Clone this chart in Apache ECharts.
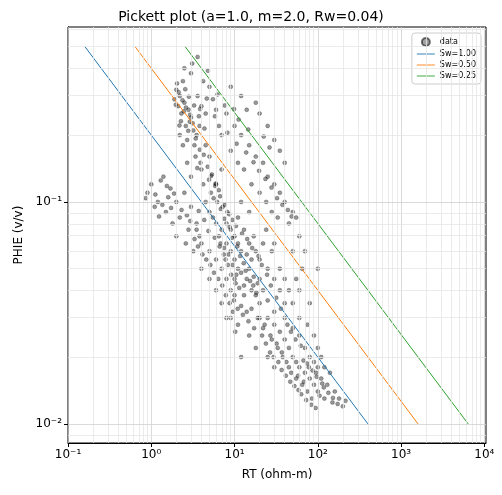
<!DOCTYPE html>
<html><head><meta charset="utf-8">
<script src="https://cdn.jsdelivr.net/npm/echarts@6/dist/echarts.min.js"></script>
<style>html,body{margin:0;padding:0;background:#fff}#c{width:502px;height:495px}</style>
</head><body><div id="c"></div>
<script>
// data points [RT, PHIE]
const dataPts = [
[2.0,0.32],[2.2,0.30],[2.5,0.28],[2.8,0.26],[3.0,0.24],[2.3,0.25],[2.6,0.22],[3.2,0.21],[3.5,0.20],[2.1,0.27],[1.9,0.29],[2.4,0.35],[3.0,0.38],[3.6,0.30],[4.0,0.27],[4.5,0.25],[2.7,0.19],[3.3,0.18],[2.9,0.23],[3.8,0.22],[5.0,0.33],[4.2,0.35],[5.5,0.29],[6,0.26],[6.5,0.22],[7,0.2],[3.1,0.42],[3.6,0.45],[2.5,0.40],[4.8,0.39],
[8,0.25],[10,0.22],[12,0.2],[15,0.18],[18,0.16],[22,0.15],[25,0.13],[30,0.12],[35,0.11],[40,0.1],[50,0.09],[55,0.085],[9,0.17],[11,0.15],[13,0.14],[16,0.12],[20,0.11],[24,0.1],[28,0.09],[33,0.085],[45,0.08],[20,0.25],[25,0.22],[30,0.19],[18,0.28],[14,0.26],[12,0.3],[9,0.33],[40,0.15],[35,0.17],[60,0.07],[70,0.06],[100,0.05],[12,0.1],[15,0.09],[7,0.14],[6,0.12],[5,0.16],[4,0.14],[4.5,0.18],
[0.9,0.11],[1.0,0.12],[1.2,0.1],[1.3,0.125],[1.5,0.09],[1.7,0.115],[2.0,0.1],[2.2,0.085],[2.5,0.11],[1.8,0.08],[1.4,0.13],[1.1,0.095],[2.8,0.075],[3,0.095],[3.5,0.08],[1.6,0.105],[2.0,0.07],[2.6,0.065],[3.2,0.06],[3.8,0.07],
[5,0.09],[6,0.08],[7,0.075],[8,0.065],[9,0.06],[10,0.055],[11,0.05],[12,0.048],[14,0.045],[16,0.04],[18,0.038],[20,0.035],[4.5,0.1],[5.5,0.085],[6.5,0.07],[7.5,0.062],[8.5,0.058],[9.5,0.052],[10.5,0.047],[13,0.042],[15,0.05],[17,0.046],[19,0.043],[22,0.04],[25,0.036],[8,0.08],[9,0.075],[10,0.07],[11,0.065],[12,0.06],[14,0.058],[16,0.055],[7,0.05],[8,0.045],[9,0.04],[6,0.055],[5,0.06],[4,0.05],[5,0.045],[6,0.04],[7,0.035],[10,0.038],[12,0.034],[14,0.032],[9,0.03],[11,0.028],[4,0.065],[3.5,0.075],[13,0.075],[18,0.06],[20,0.055],[25,0.05],[30,0.045],[22,0.065],[28,0.06],[35,0.05],[40,0.045],[45,0.04],
[25,0.03],[30,0.028],[35,0.026],[40,0.024],[45,0.022],[50,0.02],[55,0.019],[60,0.018],[70,0.017],[80,0.016],[90,0.015],[100,0.014],[120,0.013],[150,0.0125],[200,0.012],[30,0.032],[40,0.03],[50,0.027],[60,0.025],[70,0.022],[80,0.02],[90,0.019],[100,0.018],[110,0.016],[130,0.015],[20,0.03],[22,0.027],[28,0.024],[33,0.022],[38,0.02],[45,0.018],[55,0.016],[65,0.015],[75,0.014],[85,0.013],[50,0.035],[60,0.03],[75,0.028],[90,0.025],[100,0.022],[110,0.02],[120,0.018],[140,0.017],[160,0.014],[180,0.013],[35,0.04],[15,0.025],[18,0.022],[25,0.02],[30,0.018],[12,0.02],[60,0.04],[8,0.03],[20,0.045],[40,0.035],
[2.2,0.2],[2.4,0.18],[3.4,0.16],[3.9,0.15],[4.2,0.12],[5.2,0.11],[6.2,0.1],[7.2,0.095],[8.2,0.09],[3.0,0.13],[2.7,0.15],[6.8,0.065],[7.8,0.055],[10,0.045],[13,0.038],[16,0.033],[19,0.03],[23,0.028],[27,0.025],[32,0.023],[37,0.021],[42,0.019],[48,0.017],[58,0.0165],[68,0.0155],[78,0.018],[95,0.017],[15,0.065],[11,0.085],[17,0.07],[24,0.075],[30,0.065],[50,0.06],[65,0.05],[80,0.035],[55,0.045],
[2.13,0.312],[2.37,0.287],[2.61,0.266],[2.93,0.247],[2.27,0.231],[2.78,0.209],[3.14,0.226],[3.42,0.193],[2.46,0.256],[1.97,0.274],[2.18,0.221],[3.73,0.243],[4.35,0.214],[3.27,0.272],[2.83,0.298],[2.04,0.342],[2.56,0.322],[3.86,0.262],[4.64,0.292],[5.82,0.243],
[3.83,0.172],[4.27,0.163],[4.76,0.144],[5.34,0.133],[5.93,0.121],[6.47,0.113],[3.57,0.142],[4.94,0.126],[5.61,0.104],[6.83,0.093],[7.56,0.084],[8.74,0.077],[9.37,0.069],[10.8,0.063],[11.7,0.057],[12.9,0.053],[13.6,0.049],[15.4,0.044],[16.8,0.042],[18.3,0.039],
[8.31,0.052],[9.12,0.047],[10.3,0.043],[11.4,0.041],[7.43,0.058],[6.62,0.063],[5.78,0.069],[4.86,0.074],[4.33,0.083],[3.71,0.091],[9.84,0.036],[10.9,0.033],[12.6,0.031],[14.7,0.029],[17.2,0.027],[21.4,0.025],[23.8,0.023],[26.7,0.021],[29.4,0.02],[33.6,0.019],
[36.8,0.0175],[41.3,0.0165],[46.7,0.0155],[52.4,0.0148],[58.6,0.0142],[63.2,0.0136],[72.5,0.0128],[83.4,0.0122],[94.1,0.0118],[105,0.0134],[118,0.0146],[134,0.0138],[152,0.0131],[173,0.0123],[215,0.0127],[67.3,0.0193],[74.6,0.0187],[86.5,0.0174],[96.8,0.0163],[113,0.0152],
[43.2,0.028],[47.6,0.026],[53.9,0.024],[62.4,0.0225],[36.1,0.033],[31.7,0.037],[27.3,0.042],[24.6,0.047],[21.2,0.052],[19.4,0.057],[16.3,0.062],[14.2,0.068],[12.3,0.072],[10.4,0.078],[9.43,0.083],[8.62,0.088],[7.64,0.097],[6.71,0.106],[5.86,0.118],[5.23,0.131],
[10.6,0.183],[13.8,0.167],[16.9,0.151],[19.7,0.138],[23.5,0.127],[27.8,0.116],[32.4,0.104],[37.6,0.097],[43.7,0.092],[48.5,0.086],[8.2,0.205],[11.2,0.235],[14.6,0.212],[22.4,0.197],[26.3,0.176],[7.62,0.272],[9.87,0.262],[6.24,0.305],[1.12,0.108],[1.36,0.097],
[1.54,0.118],[1.73,0.094],[1.88,0.109],[2.31,0.092],[2.68,0.087],[0.86,0.104],[1.24,0.086],[2.94,0.082],[3.31,0.068],[3.64,0.063],[4.12,0.058],[4.58,0.055],[5.13,0.052],[5.67,0.048],[6.38,0.045],[7.12,0.042],[7.87,0.038],[8.73,0.035],[9.54,0.032],[10.2,0.026]
];
const phiLine = [0.5, 0.01];
const rtSw100 = [0.16, 400];
const rtSw050 = [0.64, 1600];
const rtSw025 = [2.56, 6400];
const xTicks = [-1, 0, 1, 2, 3, 4];
const yTicks = [-2, -1];

const L = Math.log10;
const sup = {'-':'⁻','0':'⁰','1':'¹','2':'²','3':'³','4':'⁴'};
const fmtPow = v => { const r=Math.round(v); if (Math.abs(v-r)>1e-6) return ''; return '10'+String(r).split('').map(c=>sup[c]).join(''); };

const gridLines = [];
for (let n=-1;n<=3;n++) for (let k=2;k<=9;k++) gridLines.push({xAxis: L(k)+n, lineStyle:{color:'#e6e6e6'}});
xTicks.forEach(t=>gridLines.push({xAxis:t, lineStyle:{color:'#d0d0d0'}}));
for (let n=-3;n<=-1;n++) for (let k=2;k<=9;k++){const v=L(k)+n; if(v>-2.086&&v<-0.212) gridLines.push({yAxis:v, lineStyle:{color:'#e6e6e6'}});}
yTicks.forEach(t=>gridLines.push({yAxis:t, lineStyle:{color:'#d0d0d0'}}));

const mkLine = (name, rts, color) => ({
  name, type:'line', symbol:'none', z:3,
  lineStyle:{color, width:1}, itemStyle:{color},
  data: rts.map((r,i)=>[L(r), L(phiLine[i])])
});
const axisTxt = {color:'#000', fontFamily:'DejaVu Sans', fontSize:12, margin:6, formatter:fmtPow};

const chart = echarts.init(document.getElementById('c'));
chart.setOption({
  animation:false,
  title:{text:'Pickett plot (a=1.0, m=2.0, Rw=0.04)', left:'center', top:5,
    textStyle:{fontFamily:'DejaVu Sans', fontSize:14, fontWeight:'normal', color:'#000'}},
  grid:{left:68, right:16, top:27, bottom:52, show:true, borderColor:'#000', borderWidth:1},
  legend:{orient:'vertical', right:21, top:33, itemGap:3, itemWidth:18, itemHeight:8,
    borderColor:'#ccc', borderWidth:1, borderRadius:3, padding:[4,5,4,5],
    textStyle:{fontFamily:'DejaVu Sans', fontSize:8, color:'#000'},
    data:[{name:'data', icon:'circle', itemStyle:{color:'rgba(0,0,0,0.45)'}},
      {name:'Sw=1.00', icon:'path://M0,0L20,0L20,1L0,1Z'},
      {name:'Sw=0.50', icon:'path://M0,0L20,0L20,1L0,1Z'},
      {name:'Sw=0.25', icon:'path://M0,0L20,0L20,1L0,1Z'}]},
  xAxis:{type:'value', min:-1, max:4.02,
    name:'RT (ohm-m)', nameLocation:'middle', nameGap:26,
    nameTextStyle:{fontFamily:'DejaVu Sans', fontSize:12, color:'#000'},
    axisLine:{onZero:false, lineStyle:{color:'#000'}}, splitLine:{show:false},
    axisTick:{length:4, lineStyle:{color:'#000'}, customValues:xTicks},
    axisLabel:Object.assign({customValues:xTicks}, axisTxt)},
  yAxis:{type:'value', min:-2.086, max:-0.212,
    name:'PHIE (v/v)', nameLocation:'middle', nameGap:42,
    nameTextStyle:{fontFamily:'DejaVu Sans', fontSize:12, color:'#000'},
    axisLine:{onZero:false, lineStyle:{color:'#000'}}, splitLine:{show:false},
    axisTick:{length:4, lineStyle:{color:'#000'}, customValues:yTicks},
    axisLabel:Object.assign({customValues:yTicks}, axisTxt)},
  series:[
    {name:'grid', type:'line', data:[], silent:true,
     markLine:{silent:true, symbol:'none', label:{show:false}, animation:false,
       lineStyle:{type:'solid', width:0.8}, data:gridLines}},
    {name:'data', type:'scatter', symbolSize:4, z:2,
     itemStyle:{color:'rgba(0,0,0,0.5)', borderColor:'rgba(0,0,0,0.65)', borderWidth:0.5},
     data:dataPts.map(p=>[L(p[0]), L(p[1])])},
    mkLine('Sw=1.00', rtSw100, '#1f77b4'),
    mkLine('Sw=0.50', rtSw050, '#ff7f0e'),
    mkLine('Sw=0.25', rtSw025, '#2ca02c')
  ]
});
</script></body></html>
